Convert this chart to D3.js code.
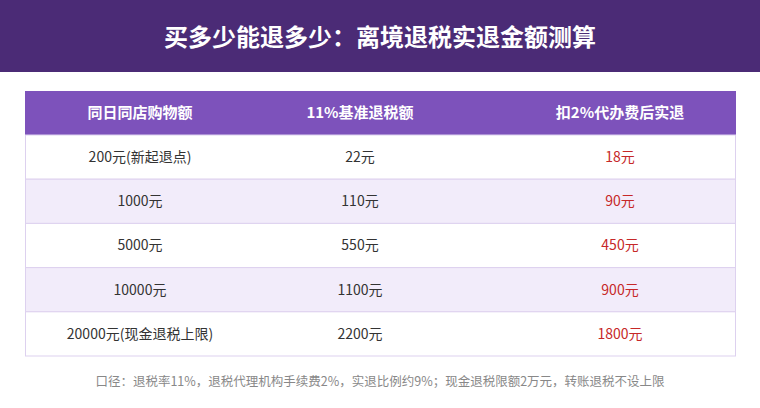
<!DOCTYPE html><html><head><meta charset="utf-8"><script src="https://cdn.jsdelivr.net/npm/d3@7"></script>
<style>body{margin:0;background:#fff}</style></head><body><svg id="c" width="760" height="408"></svg>
<script>
const title="买多少能退多少：离境退税实退金额测算";
const headers=["同日同店购物额","11%基准退税额","扣2%代办费后实退"];
const purchase=["200元(新起退点)","1000元","5000元","10000元","20000元(现金退税上限)"];
const rebate=["22元","110元","550元","1100元","2200元"];
const actual=["18元","90元","450元","900元","1800元"];
const note="口径：退税率11%，退税代理机构手续费2%，实退比例约9%；现金退税限额2万元，转账退税不设上限";
const svg=d3.select("#c"),F="'Noto Sans CJK SC','Noto Sans',sans-serif";
svg.append("rect").attr("width",760).attr("height",72).attr("fill","#4b2b76");
svg.append("text").attr("x",380).attr("y",38).attr("dy","0.35em").attr("text-anchor","middle").attr("fill","#fff").attr("font-family",F).attr("font-size",24).attr("font-weight",700).text(title);
const x0=25,x1=736;
const colX=[140,360,620];
const y=d3.scaleBand().domain(d3.range(purchase.length)).range([135,356]);
svg.append("rect").attr("x",x0).attr("y",91).attr("width",x1-x0).attr("height",44).attr("fill","#7d52bb");
headers.forEach((h,i)=>svg.append("text").attr("x",colX[i]).attr("y",113).attr("dy","0.35em").attr("text-anchor","middle").attr("fill","#fff").attr("font-family",F).attr("font-size",15).attr("font-weight",700).text(h));
purchase.forEach((p,i)=>{
 svg.append("rect").attr("x",x0+0.5).attr("y",y(i)).attr("width",x1-x0-1).attr("height",y.bandwidth()).attr("fill",i%2?"#f2ecfa":"#fff").attr("stroke","#ddd1ef");
 const cy=y(i)+y.bandwidth()/2;
 [[p,"#333"],[rebate[i],"#333"],[actual[i],"#c62828"]].forEach(([t,c],j)=>svg.append("text").attr("x",colX[j]).attr("y",cy).attr("dy","0.35em").attr("text-anchor","middle").attr("fill",c).attr("font-family",F).attr("font-size",14).text(t));
});
svg.append("text").attr("x",380).attr("y",382).attr("dy","0.35em").attr("text-anchor","middle").attr("fill","#888").attr("font-family",F).attr("font-size",12.5).text(note);
</script></body></html>
